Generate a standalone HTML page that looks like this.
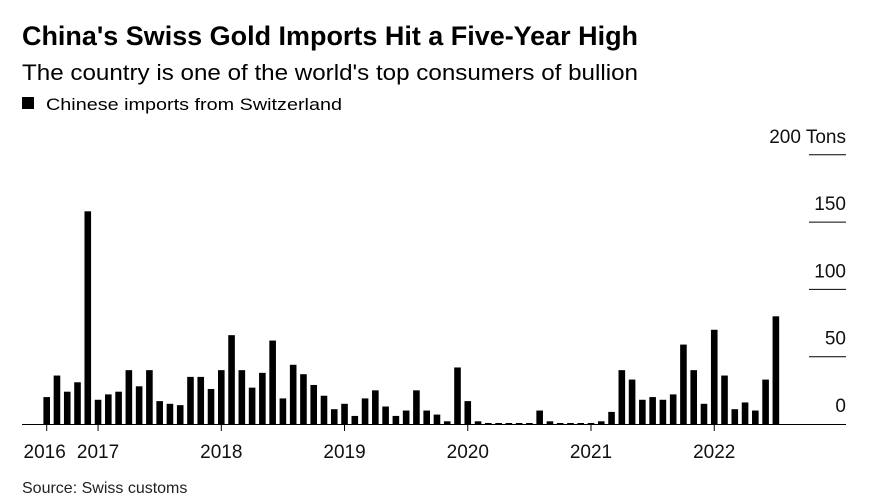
<!DOCTYPE html>
<html><head><meta charset="utf-8"><style>
html,body{margin:0;padding:0;background:#fff;}
svg{display:block;font-family:"Liberation Sans",Arial,sans-serif;}
</style></head><body>
<svg id="chart" width="871" height="498" viewBox="0 0 871 498">
<text x="22" y="45" font-size="27" font-weight="bold" textLength="616" lengthAdjust="spacingAndGlyphs">China's Swiss Gold Imports Hit a Five-Year High</text>
<text x="22" y="80" font-size="22" textLength="616" lengthAdjust="spacingAndGlyphs">The country is one of the world's top consumers of bullion</text>
<rect x="22" y="97" width="12" height="12" fill="#000"/>
<text x="46" y="110" font-size="17" textLength="296" lengthAdjust="spacingAndGlyphs">Chinese imports from Switzerland</text>
<g id="yaxis"></g>
<g id="bars"></g>
<g id="xaxis"></g>
<text x="22" y="493" font-size="16" fill="#222">Source: Swiss customs</text>
</svg>
<script>
const values = [20,36,24,31,158,18,22,24,40,28,40,17,15,14,35,35,26,40,66,40,27,38,62,19,44,37,29,21,11,15,6,19,25,13,6,10,25,10,7,2,42,17,2,0.7,0.7,0.7,0.7,0.7,10,2,0.7,0.7,0.7,0.7,2,9,40,33,18,20,18,22,59,40,15,70,36,11,16,10,33,80];
const yTicks = [0,50,100,150,200];
const yTickLabels = ["0","50","100","150","200 Tons"];
const xLabels = ["2016","2017","2018","2019","2020","2021","2022"];
const xLabelIndex = [0,5,17,29,41,53,65];

const NS="http://www.w3.org/2000/svg";
const x0=46.7, step=10.27, barW=6.6, baseY=424, pxPerUnit=67.3/50;
const xPos=i=>x0+i*step;
const yPos=v=>baseY-v*pxPerUnit;
function mk(tag,attrs,parent){const e=document.createElementNS(NS,tag);for(const k in attrs)e.setAttribute(k,attrs[k]);parent.appendChild(e);return e;}
const yg=document.getElementById('yaxis'), bg=document.getElementById('bars'), xg=document.getElementById('xaxis');
yTicks.forEach((t,i)=>{
  const y=yPos(t);
  if(t>0){const l=mk('line',{x1:809,x2:846,y1:y,y2:y,stroke:'#000','stroke-width':1},yg);
  
  }
  const tx=mk('text',{x:846,y:y-12,'font-size':19,'text-anchor':'end',fill:'#111'},yg);
  tx.textContent=yTickLabels[i];
  
  
});
values.forEach((v,i)=>{
  const h=Math.max(v*pxPerUnit,1);
  const r=mk('rect',{x:xPos(i)-barW/2,y:baseY-h,width:barW,height:h,fill:'#000'},bg);
  
  
});
const ax=mk('line',{x1:22,x2:846,y1:baseY+0.5,y2:baseY+0.5,stroke:'#000','stroke-width':1},xg);


xLabels.forEach((lab,k)=>{
  const x=xPos(xLabelIndex[k]);
  const tk=mk('line',{x1:x,x2:x,y1:baseY,y2:baseY+7,stroke:'#000','stroke-width':1},xg);
  
  
  const tx=mk('text',{x:k===0?x-2:x,y:baseY+34,'font-size':19,'text-anchor':'middle',fill:'#111'},xg);
  tx.textContent=lab;
  
  
});
</script>
</body></html>
